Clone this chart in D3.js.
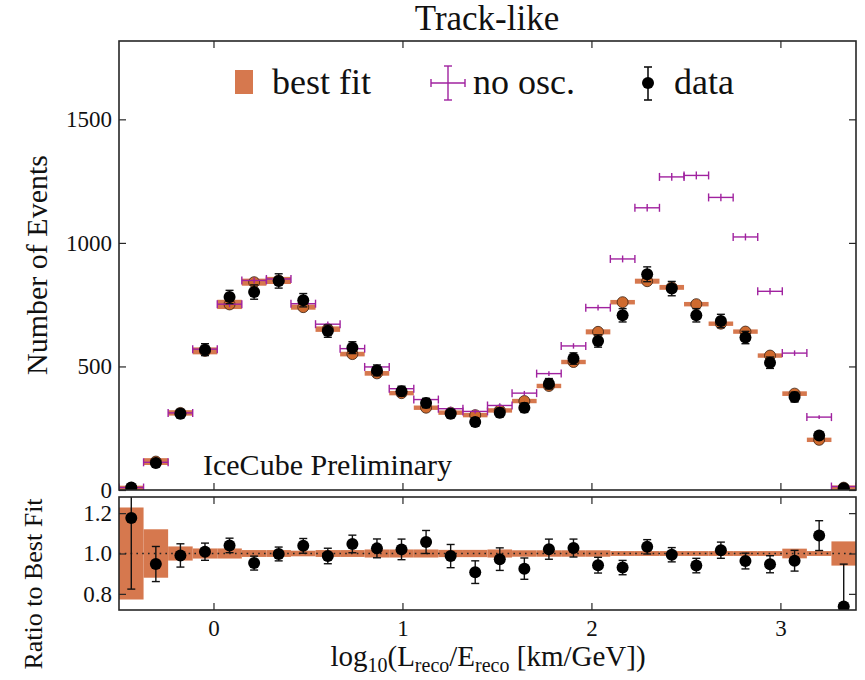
<!DOCTYPE html>
<html>
<head>
<meta charset="utf-8">
<script src="https://cdn.jsdelivr.net/npm/d3@7/dist/d3.min.js"></script>
<style>
  body { margin: 0; background: #fff; }
  svg { font-family: "Liberation Serif", "DejaVu Serif", serif; }
  .tick text { font-family: "Liberation Serif", "DejaVu Serif", serif; font-size: 23px; fill: #111; }
</style>
</head>
<body>
<script>
// bins in log10(L/E), width 0.13
var binCenters = [-0.435, -0.305, -0.175, -0.045, 0.085, 0.215, 0.345, 0.475, 0.605, 0.735,
                  0.865, 0.995, 1.125, 1.255, 1.385, 1.515, 1.645, 1.775, 1.905, 2.035,
                  2.165, 2.295, 2.425, 2.555, 2.685, 2.815, 2.945, 3.075, 3.205, 3.335];
var binWidth = 0.13;

var dataCounts = [10, 109, 309, 568, 781, 801, 846, 768, 643, 576,
                  484, 400, 352, 309, 275, 313, 333, 430, 532, 603,
                  707, 873, 815, 707, 684, 617, 515, 376, 221, 7];
var dataErr = [3, 10, 18, 24, 27, 29, 29, 27, 25, 24,
               22, 20, 19, 18, 17, 18, 19, 21, 23, 25,
               27, 30, 29, 27, 27, 25, 23, 20, 15, 2];

var bestFit = [8.5, 115, 312, 563, 751, 841, 848, 740, 651, 550,
               472, 392, 333, 313, 303, 322, 360, 421, 518, 640,
               760, 845, 820, 752, 673, 641, 544, 390, 203, 9.5];
// relative uncertainty of the best fit
var fitBand = [0.228, 0.12, 0.035, 0.025, 0.025, 0.017, 0.017, 0.014, 0.017, 0.017,
               0.02, 0.02, 0.02, 0.018, 0.018, 0.02, 0.016, 0.016, 0.016, 0.016,
               0.012, 0.012, 0.012, 0.012, 0.012, 0.012, 0.012, 0.024, 0.012, 0.06];

var noOsc = [10, 112, 312, 570, 752, 848, 854, 754, 671, 572,
             498, 410, 366, 329, 318, 342, 392, 471, 583, 738,
             935, 1142, 1267, 1273, 1184, 1024, 804, 554, 295, 14];
var noOscErr = [2, 5, 8, 10, 12, 12, 12, 12, 11, 10,
                10, 9, 9, 8, 8, 9, 9, 10, 11, 12,
                14, 15, 16, 16, 15, 14, 13, 11, 8, 2];

var xTicks = [0, 1, 2, 3];
var yTicks = [0, 500, 1000, 1500];
var ratioTicks = [0.8, 1.0, 1.2];

var orangeBar = "#d6784e";
var orangeDot = "#cf6a2e";
var purple = "#a0229f";
var frameColor = "#262626";

var W = 865, H = 680;
var left = 119, right = 856;
var mainTop = 41, mainBottom = 490;
var ratioTop = 497, ratioBottom = 610;

var svg = d3.select("body").append("svg")
  .attr("width", W)
  .attr("height", H);

var x = d3.scaleLinear().domain([-0.5, 3.4]).range([left, right]);
var y = d3.scaleLinear().domain([0, 1817]).range([mainBottom, mainTop]);
var yr = d3.scaleLinear().domain([0.72, 1.28]).range([ratioBottom, ratioTop]);

var rows = binCenters.map(function(c, i) {
  return {
    c: c,
    data: dataCounts[i], err: dataErr[i],
    fit: bestFit[i], band: fitBand[i],
    noosc: noOsc[i], nerr: noOscErr[i],
    ratio: dataCounts[i] / bestFit[i],
    rerr: dataErr[i] / bestFit[i]
  };
});

// clip paths for the two panels
var defs = svg.append("defs");
defs.append("clipPath").attr("id", "clipMain").append("rect")
  .attr("x", left).attr("y", mainTop).attr("width", right - left).attr("height", mainBottom - mainTop);
defs.append("clipPath").attr("id", "clipRatio").append("rect")
  .attr("x", left).attr("y", ratioTop).attr("width", right - left).attr("height", ratioBottom - ratioTop);

// ---------- main panel ----------
var main = svg.append("g").attr("clip-path", "url(#clipMain)");

// best fit bars
main.selectAll(".fitbar")
  .data(rows)
  .enter().append("rect")
  .attr("class", "fitbar")
  .attr("x", function(d) { return x(d.c - binWidth / 2); })
  .attr("width", function(d) { return x(d.c + binWidth / 2) - x(d.c - binWidth / 2); })
  .attr("y", function(d) { return Math.min(y(d.fit * (1 + d.band)), y(d.fit) - 2.2); })
  .attr("height", function(d) { return Math.max(y(d.fit * (1 - d.band)) - y(d.fit * (1 + d.band)), 4.4); })
  .attr("fill", orangeBar);

main.selectAll(".fitdot")
  .data(rows)
  .enter().append("circle")
  .attr("class", "fitdot")
  .attr("cx", function(d) { return x(d.c); })
  .attr("cy", function(d) { return y(d.fit); })
  .attr("r", 5.5)
  .attr("fill", orangeDot)
  .attr("stroke", "#3a2010")
  .attr("stroke-width", 0.8);

// no oscillation crosses
var nog = main.selectAll(".noosc")
  .data(rows)
  .enter().append("g")
  .attr("class", "noosc")
  .attr("stroke", purple)
  .attr("stroke-width", 1.4);
nog.append("line")
  .attr("x1", function(d) { return x(d.c - binWidth / 2); })
  .attr("x2", function(d) { return x(d.c + binWidth / 2); })
  .attr("y1", function(d) { return y(d.noosc); })
  .attr("y2", function(d) { return y(d.noosc); });
nog.append("line")
  .attr("x1", function(d) { return x(d.c - binWidth / 2); })
  .attr("x2", function(d) { return x(d.c - binWidth / 2); })
  .attr("y1", function(d) { return y(d.noosc) - 4; })
  .attr("y2", function(d) { return y(d.noosc) + 4; });
nog.append("line")
  .attr("x1", function(d) { return x(d.c + binWidth / 2); })
  .attr("x2", function(d) { return x(d.c + binWidth / 2); })
  .attr("y1", function(d) { return y(d.noosc) - 4; })
  .attr("y2", function(d) { return y(d.noosc) + 4; });
nog.append("line")
  .attr("x1", function(d) { return x(d.c); })
  .attr("x2", function(d) { return x(d.c); })
  .attr("y1", function(d) { return y(d.noosc + d.nerr); })
  .attr("y2", function(d) { return y(d.noosc - d.nerr); });

// data points with error bars
function drawData(g, yScale, val, err) {
  var dg = g.selectAll(".pt")
    .data(rows)
    .enter().append("g")
    .attr("class", "pt")
    .attr("stroke", "#111")
    .attr("stroke-width", 1.4);
  dg.append("line")
    .attr("x1", function(d) { return x(d.c); })
    .attr("x2", function(d) { return x(d.c); })
    .attr("y1", function(d) { return yScale(d[val] + d[err]); })
    .attr("y2", function(d) { return yScale(d[val] - d[err]); });
  [1, -1].forEach(function(s) {
    dg.append("line")
      .attr("x1", function(d) { return x(d.c) - 4; })
      .attr("x2", function(d) { return x(d.c) + 4; })
      .attr("y1", function(d) { return yScale(d[val] + s * d[err]); })
      .attr("y2", function(d) { return yScale(d[val] + s * d[err]); });
  });
  dg.append("circle")
    .attr("cx", function(d) { return x(d.c); })
    .attr("cy", function(d) { return yScale(d[val]); })
    .attr("r", 6)
    .attr("fill", "#000")
    .attr("stroke", "none");
}
drawData(main, y, "data", "err");

// ---------- ratio panel ----------
var rat = svg.append("g").attr("clip-path", "url(#clipRatio)");

rat.selectAll(".band")
  .data(rows)
  .enter().append("rect")
  .attr("x", function(d) { return x(d.c - binWidth / 2); })
  .attr("width", function(d) { return x(d.c + binWidth / 2) - x(d.c - binWidth / 2); })
  .attr("y", function(d) { return yr(1 + d.band); })
  .attr("height", function(d) { return yr(1 - d.band) - yr(1 + d.band); })
  .attr("fill", orangeBar);

rat.append("line")
  .attr("x1", left).attr("x2", right)
  .attr("y1", yr(1)).attr("y2", yr(1))
  .attr("stroke", "#222")
  .attr("stroke-width", 1.6)
  .attr("stroke-dasharray", "1.6,4.2");

drawData(rat, yr, "ratio", "rerr");

// ---------- axes ----------
function frame(top, bottom) {
  svg.append("rect")
    .attr("x", left).attr("y", top)
    .attr("width", right - left).attr("height", bottom - top)
    .attr("fill", "none")
    .attr("stroke", frameColor)
    .attr("stroke-width", 1.6);
}

function styleAxis(g) {
  g.attr("font-family", null).attr("font-size", null);
  g.select(".domain").remove();
  g.selectAll(".tick line").attr("stroke", frameColor).attr("stroke-width", 1.2);
}

// main panel
svg.append("g").attr("transform", "translate(0," + mainBottom + ")")
  .call(d3.axisBottom(x).tickValues(xTicks).tickSize(-7).tickFormat(""))
  .call(styleAxis);
svg.append("g").attr("transform", "translate(0," + mainTop + ")")
  .call(d3.axisTop(x).tickValues(xTicks).tickSize(-7).tickFormat(""))
  .call(styleAxis);
svg.append("g").attr("transform", "translate(" + left + ",0)")
  .call(d3.axisLeft(y).tickValues(yTicks).tickSize(-7).tickPadding(7).tickFormat(d3.format("d")))
  .call(styleAxis);
svg.append("g").attr("transform", "translate(" + right + ",0)")
  .call(d3.axisRight(y).tickValues(yTicks).tickSize(-7).tickFormat(""))
  .call(styleAxis);
frame(mainTop, mainBottom);

// ratio panel
svg.append("g").attr("transform", "translate(0," + ratioBottom + ")")
  .call(d3.axisBottom(x).tickValues(xTicks).tickSize(-7).tickPadding(10).tickFormat(d3.format("d")))
  .call(styleAxis);
svg.append("g").attr("transform", "translate(0," + ratioTop + ")")
  .call(d3.axisTop(x).tickValues(xTicks).tickSize(-7).tickFormat(""))
  .call(styleAxis);
svg.append("g").attr("transform", "translate(" + left + ",0)")
  .call(d3.axisLeft(yr).tickValues(ratioTicks).tickSize(-7).tickPadding(7).tickFormat(d3.format(".1f")))
  .call(styleAxis);
svg.append("g").attr("transform", "translate(" + right + ",0)")
  .call(d3.axisRight(yr).tickValues(ratioTicks).tickSize(-7).tickFormat(""))
  .call(styleAxis);
frame(ratioTop, ratioBottom);

// ---------- texts ----------
svg.append("text")
  .attr("x", 487).attr("y", 30)
  .attr("text-anchor", "middle")
  .attr("font-size", 35)
  .attr("fill", "#111")
  .text("Track-like");

svg.append("text")
  .attr("transform", "translate(47,265) rotate(-90)")
  .attr("text-anchor", "middle")
  .attr("font-size", 30)
  .attr("fill", "#111")
  .text("Number of Events");

svg.append("text")
  .attr("transform", "translate(42,584) rotate(-90)")
  .attr("text-anchor", "middle")
  .attr("font-size", 26)
  .attr("fill", "#111")
  .text("Ratio to Best Fit");

svg.append("text")
  .attr("x", 203).attr("y", 475)
  .attr("font-size", 30)
  .attr("fill", "#111")
  .text("IceCube Preliminary");

var xl = svg.append("text")
  .attr("x", 488).attr("y", 666)
  .attr("text-anchor", "middle")
  .attr("font-size", 29)
  .attr("fill", "#111");
xl.append("tspan").text("log");
xl.append("tspan").attr("font-size", 20).attr("dy", 6).text("10");
xl.append("tspan").attr("dy", -6).text("(L");
xl.append("tspan").attr("font-size", 20).attr("dy", 6).text("reco");
xl.append("tspan").attr("dy", -6).text("/E");
xl.append("tspan").attr("font-size", 20).attr("dy", 6).text("reco");
xl.append("tspan").attr("dy", -6).text(" [km/GeV])");

// ---------- legend ----------
var legY = 83;
var leg = svg.append("g").attr("font-size", 36).attr("fill", "#111");

leg.append("rect")
  .attr("x", 235).attr("y", 70).attr("width", 18).attr("height", 24)
  .attr("fill", orangeBar);
leg.append("text").attr("x", 272).attr("y", 94).text("best fit");

var lp = leg.append("g").attr("stroke", purple).attr("stroke-width", 1.4);
lp.append("line").attr("x1", 431).attr("x2", 465).attr("y1", legY).attr("y2", legY);
lp.append("line").attr("x1", 448).attr("x2", 448).attr("y1", 66).attr("y2", 100);
lp.append("line").attr("x1", 431).attr("x2", 431).attr("y1", legY - 4).attr("y2", legY + 4);
lp.append("line").attr("x1", 465).attr("x2", 465).attr("y1", legY - 4).attr("y2", legY + 4);
lp.append("line").attr("x1", 444).attr("x2", 452).attr("y1", 66).attr("y2", 66);
lp.append("line").attr("x1", 444).attr("x2", 452).attr("y1", 100).attr("y2", 100);
leg.append("text").attr("x", 473).attr("y", 94).text("no osc.");

var ld = leg.append("g").attr("stroke", "#111").attr("stroke-width", 1.6);
ld.append("line").attr("x1", 648).attr("x2", 648).attr("y1", 67).attr("y2", 100);
ld.append("line").attr("x1", 644).attr("x2", 652).attr("y1", 67).attr("y2", 67);
ld.append("line").attr("x1", 644).attr("x2", 652).attr("y1", 100).attr("y2", 100);
leg.append("circle").attr("cx", 648).attr("cy", legY).attr("r", 6).attr("fill", "#000");
leg.append("text").attr("x", 674).attr("y", 94).text("data");
</script>
</body>
</html>
